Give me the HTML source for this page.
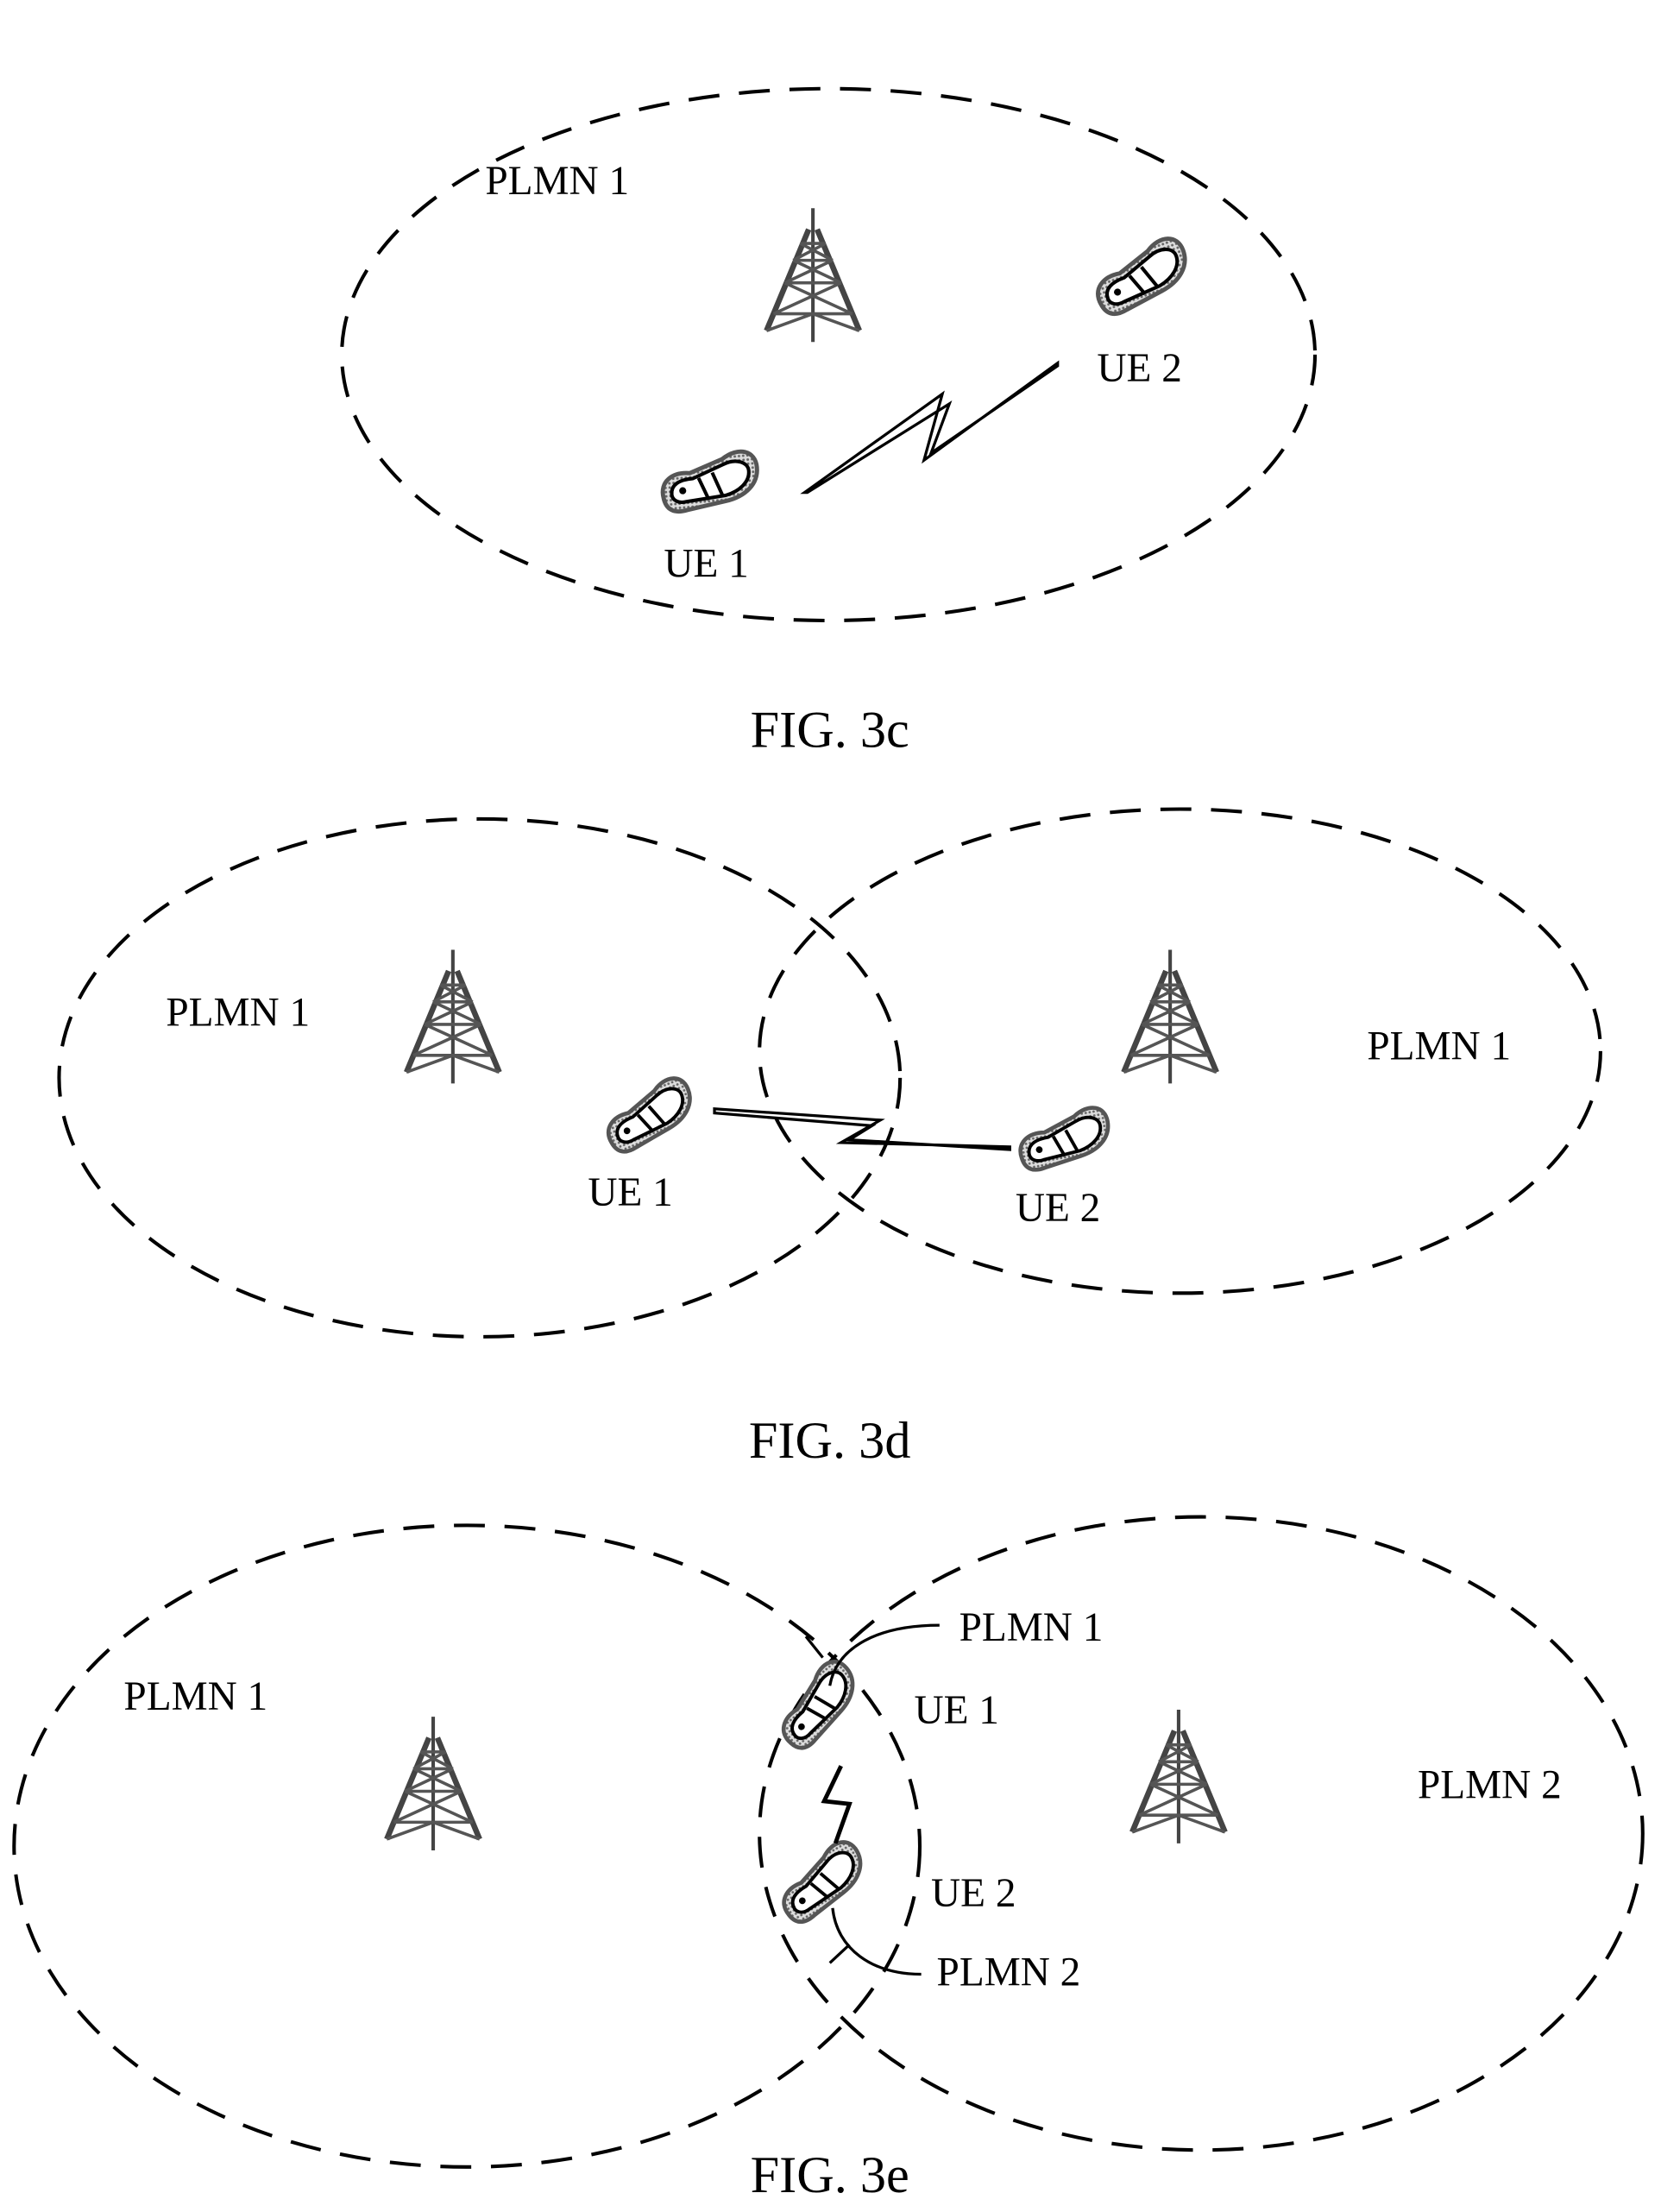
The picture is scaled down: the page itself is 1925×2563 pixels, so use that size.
<!DOCTYPE html>
<html><head><meta charset="utf-8"><style>
html,body{margin:0;padding:0;background:#fff;}
svg{display:block;}
text{font-family:"Liberation Serif",serif;fill:#000;}
</style></head><body>
<svg width="1925" height="2563" viewBox="0 0 1181 1572" preserveAspectRatio="none" xmlns="http://www.w3.org/2000/svg">
<defs>
<g id="tower">
  <line x1="0" y1="-95" x2="0" y2="0" stroke="#444" stroke-width="2.5"/>
  <path d="M-3,-80 L-33,-8 M3,-80 L33,-8" stroke="#444" stroke-width="4" fill="none"/>
  <path d="M-33,-8 L0,-20 L33,-8 M-28,-20 L20,-42 M28,-20 L-20,-42 M-20,-42 L14,-58 M20,-42 L-14,-58 M-14,-58 L9,-70 M14,-58 L-9,-70 M-28,-20 L28,-20 M-20,-42 L20,-42 M-14,-58 L14,-58 M-9,-70 L9,-70" stroke="#555" stroke-width="2.2" fill="none"/>
</g>
<pattern id="dots" width="3" height="3" patternUnits="userSpaceOnUse"><rect width="3" height="3" fill="#ddd"/><circle cx="1" cy="1" r="0.9" fill="#666"/></pattern>
<g id="phone">
  <path d="M-34,8 C-36,-4 -26,-10 -14,-8 L10,-16 C22,-24 34,-20 34,-8 C34,4 24,12 10,14 L-18,18 C-28,20 -33,16 -34,8 Z" fill="url(#dots)" stroke="#555" stroke-width="3"/>
  <path d="M-28,6 C-28,-2 -20,-4 -12,-4 L10,-12 C20,-16 28,-12 28,-6 C28,2 20,8 10,10 L-18,12 C-24,13 -28,10 -28,6 Z" fill="#fff" stroke="#000" stroke-width="2.5"/>
  <path d="M-8,-4 L-2,12 M2,-7 L8,10" stroke="#000" stroke-width="2.5"/>
  <circle cx="-20" cy="4" r="2.5" fill="#000"/>
</g>
</defs>

<!-- FIG 3c -->
<g>
<ellipse cx="589" cy="252" rx="346" ry="189" fill="none" stroke="#000" stroke-width="2.5" stroke-dasharray="22 14"/>
<text x="345" y="138" font-size="29">PLMN 1</text>
<use href="#tower" transform="translate(578,243)"/>
<use href="#phone" transform="translate(812,197) rotate(-20) scale(1.0)"/>
<use href="#phone" transform="translate(505,343) rotate(-5) scale(1.0)"/>
<text x="780" y="271" font-size="29">UE 2</text>
<text x="472" y="410" font-size="29">UE 1</text>
<polygon points="572,350 670,280 657,327 752,258 752,260 662,322 675,287 574,350" fill="#fff" stroke="#000" stroke-width="2"/>
<text x="590" y="531" font-size="37" text-anchor="middle">FIG. 3c</text>
</g>

<!-- FIG 3d -->
<g>
<ellipse cx="341" cy="766" rx="299" ry="184" fill="none" stroke="#000" stroke-width="2.5" stroke-dasharray="22 14"/>
<ellipse cx="839" cy="747" rx="299" ry="172" fill="none" stroke="#000" stroke-width="2.5" stroke-dasharray="22 14"/>
<text x="118" y="729" font-size="29">PLMN 1</text>
<text x="972" y="753" font-size="29">PLMN 1</text>
<use href="#tower" transform="translate(322,770)"/>
<use href="#tower" transform="translate(832,770)"/>
<use href="#phone" transform="translate(462,793) rotate(-22) scale(0.95)"/>
<use href="#phone" transform="translate(757,810) rotate(-10) scale(0.95)"/>
<text x="418" y="857" font-size="29">UE 1</text>
<text x="722" y="868" font-size="29">UE 2</text>
<polygon points="508,788 626,796 598,812 718,815 718,817 604,810 620,800 508,791" fill="#fff" stroke="#000" stroke-width="2"/>
<text x="590" y="1036" font-size="37" text-anchor="middle">FIG. 3d</text>
</g>

<!-- FIG 3e -->
<g>
<ellipse cx="332" cy="1312" rx="322" ry="228" fill="none" stroke="#000" stroke-width="2.5" stroke-dasharray="22 14"/>
<ellipse cx="854" cy="1303" rx="314" ry="225" fill="none" stroke="#000" stroke-width="2.5" stroke-dasharray="22 14"/>
<text x="88" y="1215" font-size="29">PLMN 1</text>
<text x="1008" y="1278" font-size="29">PLMN 2</text>
<use href="#tower" transform="translate(308,1315)"/>
<use href="#tower" transform="translate(838,1310)"/>
<use href="#phone" transform="translate(582,1212) rotate(-40) scale(0.95)"/>
<use href="#phone" transform="translate(585,1338) rotate(-30) scale(0.95)"/>
<text x="650" y="1225" font-size="29">UE 1</text>
<text x="662" y="1355" font-size="29">UE 2</text>
<polyline points="598,1255 586,1280 604,1282 594,1310" fill="none" stroke="#000" stroke-width="3"/>
<path d="M590,1198 C595,1170 625,1155 668,1155" fill="none" stroke="#000" stroke-width="2"/>
<path d="M592,1356 C595,1385 620,1403 655,1403" fill="none" stroke="#000" stroke-width="2"/>
<line x1="573" y1="1163" x2="585" y2="1178" stroke="#000" stroke-width="2"/>
<line x1="590" y1="1395" x2="604" y2="1382" stroke="#000" stroke-width="2"/>
<text x="682" y="1166" font-size="29">PLMN 1</text>
<text x="666" y="1411" font-size="29">PLMN 2</text>
<text x="590" y="1558" font-size="37" text-anchor="middle">FIG. 3e</text>
</g>
</svg>
</body></html>
